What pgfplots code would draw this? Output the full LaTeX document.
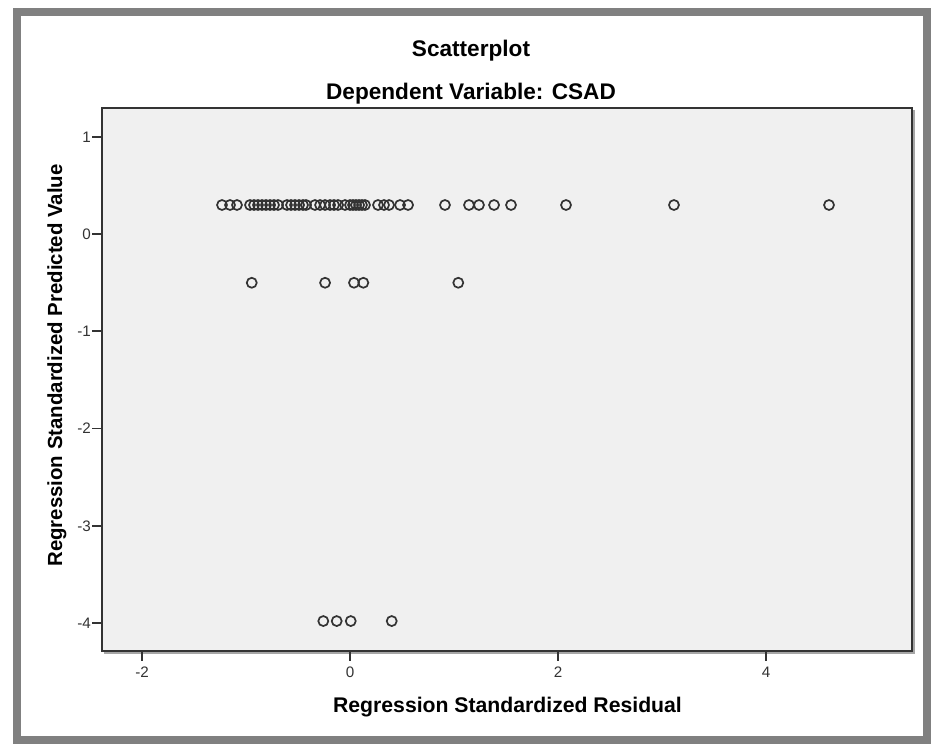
\documentclass[border=0pt]{standalone}
\usepackage{fontspec}
\setmainfont{Liberation Sans}
\usepackage{pgfplots}
\usepackage{pgfplotstable}
\pgfplotsset{compat=1.18}

\definecolor{framegray}{HTML}{808080}
\definecolor{plotbg}{HTML}{F0F0F0}
\definecolor{ink}{HTML}{333333}

% residual, predicted
\pgfplotstableread{
x y
-1.231 0.30
-1.154 0.30
-1.087 0.30
-0.962 0.30
-0.923 0.30
-0.885 0.30
-0.846 0.30
-0.808 0.30
-0.769 0.30
-0.731 0.30
-0.692 0.30
-0.606 0.30
-0.567 0.30
-0.529 0.30
-0.490 0.30
-0.452 0.30
-0.423 0.30
-0.337 0.30
-0.288 0.30
-0.240 0.30
-0.192 0.30
-0.154 0.30
-0.115 0.30
-0.048 0.30
0.000 0.30
0.029 0.30
0.058 0.30
0.087 0.30
0.115 0.30
0.144 0.30
0.269 0.30
0.327 0.30
0.375 0.30
0.481 0.30
0.558 0.30
0.913 0.30
1.144 0.30
1.240 0.30
1.385 0.30
1.548 0.30
2.077 0.30
3.115 0.30
4.606 0.30
-0.945 -0.50
-0.240 -0.50
0.038 -0.50
0.128 -0.50
1.041 -0.50
-0.257 -3.98
-0.128 -3.98
0.007 -3.98
0.401 -3.98
}\resid

\begin{document}
\begin{tikzpicture}
\path[use as bounding box] (0,0) rectangle (470pt,373.5pt);
\fill[white] (0,0) rectangle (470pt,373.5pt);
\draw[framegray, line width=4pt] (8.5pt,3.5pt) rectangle (463.25pt,367.25pt);
% faint shadow right and below the plot box
\draw[black!35, line width=0.6pt] (457pt,318.5pt) -- (457pt,47pt) -- (52pt,47pt);

\begin{axis}[
  at={(51pt,48pt)}, anchor=south west,
  scale only axis,
  width=405pt, height=271.5pt,
  xmin=-2.385, xmax=5.404,
  ymin=-4.288, ymax=1.298,
  xtick={-2,0,2,4},
  ytick={-4,-3,-2,-1,0,1},
  xtick pos=left, ytick pos=left,
  tick align=outside,
  major tick length=5pt,
  every tick/.style={ink, line width=0.9pt},
  axis line style={ink, line width=0.9pt},
  axis background/.style={fill=plotbg},
  /pgf/number format/assume math mode=true,
  ticklabel style={font=\fontsize{7.6}{9}\selectfont, text=ink},
  xticklabel style={yshift=0.5pt},
  yticklabel style={xshift=3pt},
  clip=false,
]
\addplot[only marks, mark=o, mark size=2.5pt, ink, mark options={line width=0.85pt}]
  table[x=x, y=y] {\resid};
\end{axis}

\node[anchor=base, font=\fontsize{11.3}{13}\selectfont\bfseries] at (235.5pt,345pt) {Scatterplot};
\node[anchor=base, font=\fontsize{11.3}{13}\selectfont\bfseries] at (235.5pt,323.5pt) {Dependent Variable: CSAD};
\node[anchor=base, font=\fontsize{10.6}{12}\selectfont\bfseries] at (253.75pt,17pt) {Regression Standardized Residual};
\node[anchor=base, rotate=90, font=\fontsize{10.2}{12}\selectfont\bfseries] at (31pt,190.75pt) {Regression Standardized Predicted Value};
\end{tikzpicture}
\end{document}
